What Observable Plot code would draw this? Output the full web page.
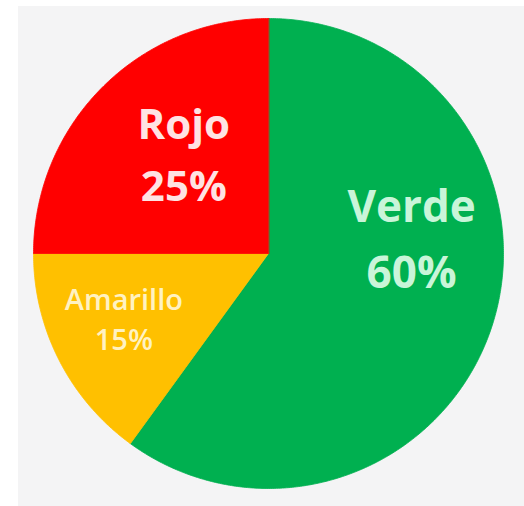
<!DOCTYPE html>
<html>
<head>
<meta charset="utf-8">
<script src="https://cdn.jsdelivr.net/npm/d3@7"></script>
<script src="https://cdn.jsdelivr.net/npm/@observablehq/plot@0.6"></script>
<style>
  html, body { margin: 0; padding: 0; background: #ffffff; }
  #chart svg { display: block; box-shadow: inset 18px 6px 0 #ffffff; }
</style>
</head>
<body>
<div id="chart"></div>
<script>
// ---- data ----
const categories = ["Verde", "Amarillo", "Rojo"];
const values = [60, 15, 25];
const percentLabels = ["60%", "15%", "25%"];
const sliceColors = ["#00b050", "#ffc000", "#ff0000"];
const textColors = ["#c9f5d9", "#fff2c2", "#ffe3e3"];

const data = categories.map((c, i) => ({category: c, value: values[i], pct: percentLabels[i]}));

// pie geometry (angles clockwise from 12 o'clock)
const arcs = d3.pie().sort(null).value(d => d.value)(data);
const points = [];
for (const a of arcs) {
  const n = Math.max(2, Math.ceil((a.endAngle - a.startAngle) / (Math.PI / 360)));
  points.push({category: a.data.category, x: 0, y: 0});
  for (let k = 0; k <= n; k++) {
    const t = a.startAngle + (a.endAngle - a.startAngle) * k / n;
    points.push({category: a.data.category, x: Math.sin(t), y: Math.cos(t)});
  }
}
const labelR = 0.6;
const labels = arcs.map(a => {
  const m = (a.startAngle + a.endAngle) / 2;
  return {category: a.data.category, text: a.data.category + "\n" + a.data.pct,
          x: labelR * Math.sin(m), y: labelR * Math.cos(m)};
});

const labelStyle = {
  Verde:    {dx: 9,   dy: -63, fontSize: 44, lineHeight: 1.5},
  Amarillo: {dx: -19, dy: 0,   fontSize: 29, lineHeight: 1.35},
  Rojo:     {dx: 15,  dy: -4,  fontSize: 42, lineHeight: 1.48}
};

const textMarks = categories.map((c, i) => Plot.text(labels.filter(d => d.category === c), {
  x: "x", y: "y", text: "text",
  fill: textColors[i],
  fontFamily: "Open Sans",
  fontWeight: c === "Amarillo" ? 600 : 700,
  textAnchor: "middle",
  ...labelStyle[c]
}));

const chart = Plot.plot({
  width: 524,
  height: 506,
  margin: 0,
  style: {background: "#f4f4f5", fontFamily: "Open Sans"},
  x: {domain: [-1, 1], range: [33, 503], axis: null},
  y: {domain: [-1, 1], range: [488, 18], axis: null},
  color: {domain: categories, range: sliceColors},
  marks: [
    Plot.line(points, {x: "x", y: "y", z: "category", fill: "category", stroke: "category", strokeWidth: 0.8, curve: "linear-closed"}),
    ...textMarks
  ]
});
document.getElementById("chart").appendChild(chart);
</script>
</body>
</html>
